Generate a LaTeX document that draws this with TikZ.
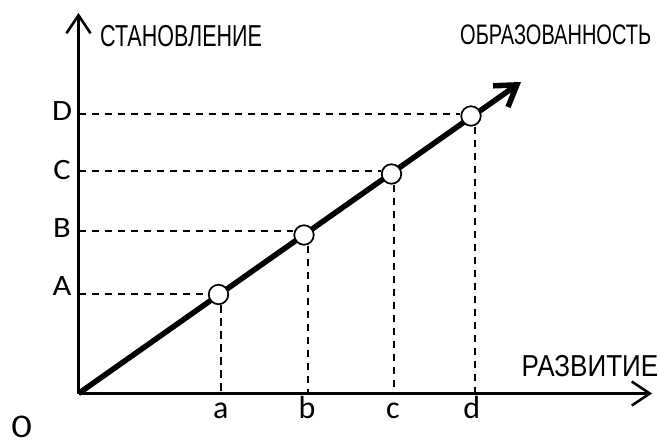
\documentclass[tikz,border=0pt]{standalone}
\usepackage{fontspec}
\setmainfont{Carlito}
\newfontfamily\narrowfont{Liberation Sans}
\newfontfamily\digitfont{Lato}
\usetikzlibrary{arrows.meta}
\begin{document}
\begin{tikzpicture}[x=1pt,y=-1pt,
  axis/.style={line width=2.5pt,-{Straight Barb[length=18pt,width=24pt,line width=2.5pt]}},
  growth/.style={line width=5.5pt,-{Straight Barb[length=20pt,width=26pt,line width=5.5pt]}},
  guide/.style={line width=1.9pt,dash pattern=on 7.5pt off 5.5pt},
  pt/.style={circle,draw,fill=white,line width=1.7pt,minimum size=19.5pt,inner sep=0pt},
  axlabel/.style={anchor=base west,inner sep=0pt},
  capl/.style={font=\fontsize{29.5}{31}\selectfont,anchor=base,inner sep=0pt},
  lowl/.style={font=\fontsize{32}{34}\selectfont,anchor=base,inner sep=0pt}]
\useasboundingbox (0,0) rectangle (659,441);
\coordinate (O) at (78.5,393.5);
\coordinate (ytop) at (78.5,13);
\coordinate (xend) at (652,393.5);
\coordinate (tip) at (521,82);
% guide anchors on the axes
\coordinate (hA) at (78.5,294);
\coordinate (hB) at (78.5,231);
\coordinate (hC) at (78.5,171);
\coordinate (hD) at (78.5,114);
\coordinate (va) at (220.7,393.5);
\coordinate (vb) at (308,393.5);
\coordinate (vc) at (394,393.5);
\coordinate (vd) at (475,393.5);
% axes
\draw[axis] (O) -- (ytop);
\draw[axis] (O) -- (xend);
% growth line
\draw[growth] (O) -- (tip);
% points
\node[pt] (cA) at (218.5,294.5) {};
\node[pt] (cB) at (304,235) {};
\node[pt] (cC) at (391.5,174) {};
\node[pt] (cD) at (471,116) {};
% guides
\draw[guide] (hA) -- (hA -| cA.west);
\draw[guide] (hB) -- (hB -| cB.west);
\draw[guide] (hC) -- (hC -| cC.west);
\draw[guide] (hD) -- (hD -| cD.west);
\draw[guide] (va |- cA.south) -- (va);
\draw[guide] (vb |- cB.south) -- (vb);
\draw[guide] (vc |- cC.south) -- (vc);
\draw[guide] (vd |- cD.south) -- (vd);
% axis titles
\node[axlabel,font=\narrowfont\fontsize{30.3}{32}\selectfont] (tY) at (100,47) {\scalebox{0.71}[1]{СТАНОВЛЕНИЕ}};
\node[axlabel,font=\narrowfont\fontsize{28.2}{30}\selectfont] (tL) at (460,45) {\scalebox{0.71}[1]{ОБРАЗОВАННОСТЬ}};
\node[axlabel,font=\narrowfont\fontsize{30.3}{32}\selectfont] (tX) at (521.5,376.5) {\scalebox{0.86}[1]{РАЗВИТИЕ}};
% level labels
\node[capl] (lD) at (62,121) {\scalebox{1.1}[1]{D}};
\node[capl] (lC) at (62,180) {\scalebox{1.1}[1]{C}};
\node[capl] (lB) at (62,237) {\scalebox{1.1}[1]{B}};
\node[capl] (lA) at (62,295) {\scalebox{1.1}[1]{A}};
\node[lowl] (la) at (220.7,418) {a};
\node[lowl] (lb) at (307,418) {b};
\node[lowl] (lc) at (393,418) {c};
\node[lowl] (ld) at (471.7,418) {d};
\node[font=\digitfont\fontsize{29.6}{32}\selectfont,anchor=base,inner sep=0pt] (zero) at (21.7,437.5) {\scalebox{1.2}[1]{0}};
\end{tikzpicture}
\end{document}
